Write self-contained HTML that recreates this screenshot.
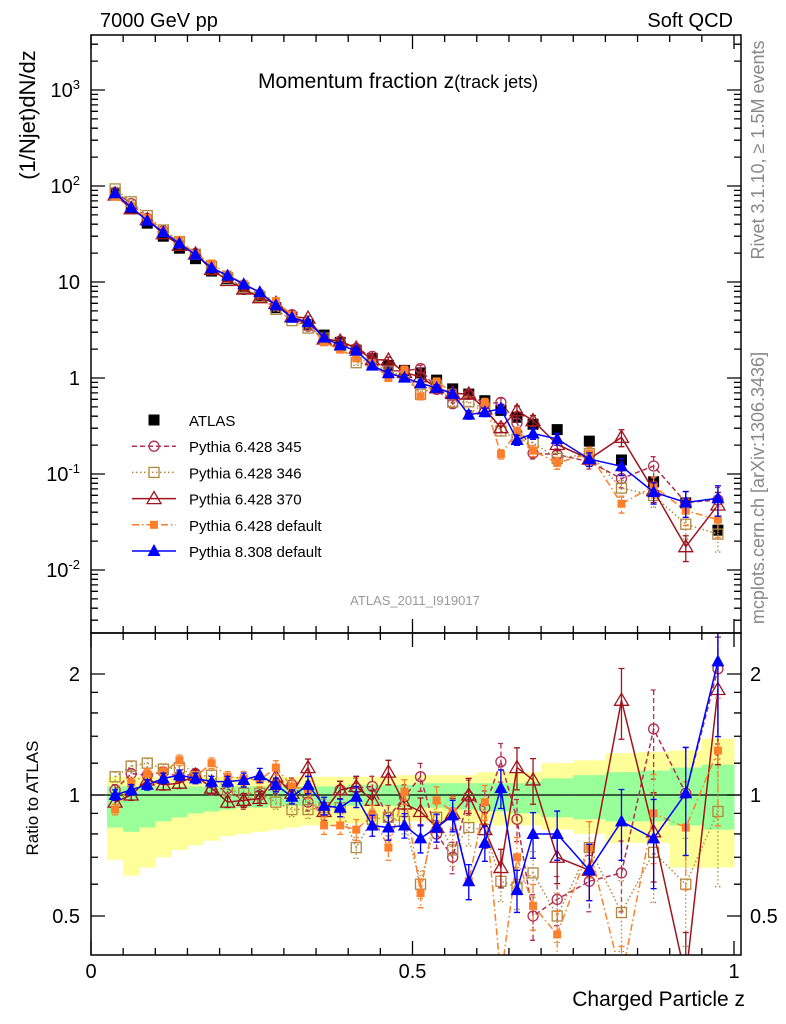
<!DOCTYPE html>
<html><head><meta charset="utf-8">
<style>
html,body{margin:0;padding:0;background:#fff;}
svg{display:block;font-family:"Liberation Sans",sans-serif;}
</style></head>
<body>
<svg id="chart" width="786" height="1024" viewBox="0 0 786 1024" xmlns="http://www.w3.org/2000/svg">
<defs>
<clipPath id="clipTop"><rect x="91" y="35" width="650" height="598"/></clipPath>
<clipPath id="clipBot"><rect x="91" y="633" width="650" height="322"/></clipPath>
</defs>
<g id="bands" clip-path="url(#clipBot)"></g>
<g id="marks"></g>
<g id="axes"></g>
<text x="100" y="27" font-size="20">7000 GeV pp</text>
<text x="733" y="27" font-size="20" text-anchor="end">Soft QCD</text>
<text x="258" y="88" font-size="21">Momentum fraction z<tspan font-size="18">(track jets)</tspan></text>
<text x="415" y="605" font-size="13" fill="#999" text-anchor="middle">ATLAS_2011_I919017</text>
<text transform="translate(764,150) rotate(-90)" font-size="18" fill="#888" text-anchor="middle">Rivet 3.1.10, ≥ 1.5M events</text>
<text transform="translate(764,488) rotate(-90)" font-size="18" fill="#888" text-anchor="middle">mcplots.cern.ch [arXiv:1306.3436]</text>
<text transform="translate(35,115) rotate(-90)" font-size="22" text-anchor="middle">(1/Njet)dN/dz</text>
<text transform="translate(38,798) rotate(-90)" font-size="17" text-anchor="middle">Ratio to ATLAS</text>
<text x="745" y="1006" font-size="21" text-anchor="end">Charged Particle z</text>
<g id="legend"></g>
</svg>
<script>
const zCenters = [0.0375,0.0625,0.0875,0.1125,0.1375,0.1625,0.1875,0.2125,0.2375,0.2625,0.2875,0.3125,0.3375,0.3625,0.3875,0.4125,0.4375,0.4625,0.4875,0.5125,0.5375,0.5625,0.5875,0.6125,0.6375,0.6625,0.6875,0.725,0.775,0.825,0.875,0.925,0.975];
const zLow = [0.025,0.05,0.075,0.1,0.125,0.15,0.175,0.2,0.225,0.25,0.275,0.3,0.325,0.35,0.375,0.4,0.425,0.45,0.475,0.5,0.525,0.55,0.575,0.6,0.625,0.65,0.675,0.7,0.75,0.8,0.85,0.9,0.95];
const zHigh = [0.05,0.075,0.1,0.125,0.15,0.175,0.2,0.225,0.25,0.275,0.3,0.325,0.35,0.375,0.4,0.425,0.45,0.475,0.5,0.525,0.55,0.575,0.6,0.625,0.65,0.675,0.7,0.75,0.8,0.85,0.9,0.95,1.0];
const atlasValues = [84,58,41,30,22.5,17.5,13,10.8,8.7,7.0,5.4,4.3,3.6,2.8,2.35,1.95,1.6,1.35,1.2,1.13,0.95,0.77,0.68,0.58,0.46,0.39,0.33,0.29,0.22,0.14,0.083,0.05,0.026];
const ratio345 = [1.03,1.13,1.12,1.14,1.11,1.13,1.03,1.04,0.96,1.0,1.05,1.06,0.96,0.91,1.03,1.04,1.05,0.88,0.99,1.11,0.8,0.7,0.99,0.93,1.21,0.87,0.5,0.55,0.61,0.64,1.46,1.01,2.06];
const ratio346 = [1.11,1.18,1.2,1.16,1.17,1.11,1.12,1.03,1.01,1.01,0.96,0.92,0.92,0.93,0.93,0.74,0.87,0.88,0.86,0.6,0.88,0.73,0.83,0.82,0.61,0.59,0.64,0.5,0.74,0.51,0.72,0.6,0.91];
const ratio370 = [0.96,1.0,1.09,1.06,1.07,1.12,1.04,0.96,0.97,0.98,1.11,1.01,1.17,0.91,1.03,1.05,0.97,1.14,0.95,0.91,0.83,0.9,1.0,0.82,0.66,1.17,1.09,0.7,0.65,1.72,0.81,0.35,1.83];
const ratio6def = [0.92,1.07,1.13,1.14,1.22,1.11,1.2,1.11,1.1,1.09,1.17,1.05,1.03,0.84,0.84,0.82,0.89,0.74,1.02,0.57,0.97,0.91,0.61,0.96,0.35,0.7,0.53,0.45,0.74,0.35,0.9,0.83,1.29];
const ratio8def = [1.0,1.03,1.06,1.1,1.12,1.1,1.08,1.08,1.09,1.12,1.06,0.99,1.06,0.94,0.93,0.99,0.84,0.83,0.84,0.78,0.83,0.89,0.61,0.76,1.04,0.58,0.8,0.8,0.65,0.86,0.78,1.01,2.15];
const relErr = [0.03,0.03,0.03,0.03,0.03,0.03,0.03,0.03,0.04,0.04,0.04,0.04,0.05,0.05,0.05,0.06,0.06,0.07,0.07,0.08,0.08,0.09,0.1,0.1,0.11,0.12,0.13,0.14,0.16,0.2,0.25,0.3,0.35];
const bandYellowHi = [1.11,1.11,1.11,1.11,1.11,1.11,1.11,1.11,1.11,1.11,1.11,1.11,1.11,1.11,1.11,1.11,1.11,1.11,1.12,1.12,1.12,1.12,1.12,1.14,1.14,1.14,1.14,1.2,1.22,1.27,1.28,1.29,1.38];
const bandYellowLo = [0.69,0.63,0.66,0.7,0.73,0.75,0.77,0.79,0.8,0.81,0.82,0.83,0.84,0.84,0.85,0.85,0.85,0.86,0.86,0.86,0.86,0.86,0.85,0.85,0.84,0.84,0.84,0.82,0.8,0.76,0.76,0.66,0.66];
const bandGreenHi = [1.05,1.05,1.05,1.05,1.05,1.05,1.05,1.05,1.05,1.05,1.05,1.05,1.05,1.05,1.05,1.06,1.06,1.06,1.06,1.07,1.07,1.07,1.07,1.07,1.07,1.07,1.08,1.1,1.12,1.14,1.15,1.17,1.19];
const bandGreenLo = [0.83,0.81,0.83,0.86,0.88,0.9,0.91,0.92,0.93,0.93,0.94,0.94,0.94,0.94,0.94,0.94,0.94,0.94,0.93,0.93,0.93,0.92,0.92,0.91,0.91,0.9,0.9,0.88,0.87,0.86,0.86,0.84,0.82];
const topTickLabels = ["10<tspan dy='-8' font-size='13'>-2</tspan>","10<tspan dy='-8' font-size='13'>-1</tspan>","1","10","10<tspan dy='-8' font-size='13'>2</tspan>","10<tspan dy='-8' font-size='13'>3</tspan>"];
const topTickValues = [0.01,0.1,1,10,100,1000];
const ratioTickValues = [0.5,1,2];
const ratioTickLabels = ["0.5","1","2"];
const xTickValues = [0,0.5,1];
const xTickLabels = ["0","0.5","1"];

const NS="http://www.w3.org/2000/svg";
const X0=91,X1=734;
function xs(z){return X0+z*(X1-X0);}
function yTop(v){return 378-96*Math.log10(v);}
function yBot(r){return 795-402*Math.log10(r);}
function mk(tag,attrs,parent){const e=document.createElementNS(NS,tag);for(const k in attrs)e.setAttribute(k,attrs[k]);parent.appendChild(e);return e;}
const bands=document.getElementById('bands'),marks=document.getElementById('marks'),axes=document.getElementById('axes'),legend=document.getElementById('legend');

for(let i=0;i<zCenters.length;i++){
  const r1=mk('rect',{x:xs(zLow[i]),width:xs(zHigh[i])-xs(zLow[i])+0.5,y:yBot(bandYellowHi[i]),height:yBot(bandYellowLo[i])-yBot(bandYellowHi[i]),fill:'#ffff99'},bands);
  
  
  const r2=mk('rect',{x:xs(zLow[i]),width:xs(zHigh[i])-xs(zLow[i])+0.5,y:yBot(bandGreenHi[i]),height:yBot(bandGreenLo[i])-yBot(bandGreenHi[i]),fill:'#99ff99'},bands);
  
  
}
const unity=mk('line',{x1:91,x2:741,y1:yBot(1),y2:yBot(1),stroke:'#000','stroke-width':1.2},bands);



const series=[
 {name:'pythia-6428-345',label:'Pythia 6.428 345',ratio:ratio345,color:'#b03050',dash:'5,3',marker:'circle'},
 {name:'pythia-6428-346',label:'Pythia 6.428 346',ratio:ratio346,color:'#b08840',dash:'1.5,2.5',marker:'osquare'},
 {name:'pythia-6428-370',label:'Pythia 6.428 370',ratio:ratio370,color:'#a0141e',dash:'',marker:'otri'},
 {name:'pythia-6428-default',label:'Pythia 6.428 default',ratio:ratio6def,color:'#ff7f2a',dash:'7,3,1.5,3',marker:'fsquare'},
 {name:'pythia-8308-default',label:'Pythia 8.308 default',ratio:ratio8def,color:'#0000ff',dash:'',marker:'ftri'}
];
function marker(type,x,y,color,g){
  let e;
  if(type==='circle')e=mk('circle',{cx:x,cy:y,r:5,fill:'none',stroke:color,'stroke-width':1.3},g);
  else if(type==='osquare')e=mk('rect',{x:x-5,y:y-5,width:10,height:10,fill:'none',stroke:color,'stroke-width':1.3},g);
  else if(type==='fsquare')e=mk('rect',{x:x-4,y:y-4,width:8,height:8,fill:color},g);
  else if(type==='bsquare')e=mk('rect',{x:x-5.5,y:y-5.5,width:11,height:11,fill:'#000'},g);
  else if(type==='otri')e=mk('polygon',{points:`${x},${y-7} ${x-7},${y+5} ${x+7},${y+5}`,fill:'none',stroke:color,'stroke-width':1.3},g);
  else e=mk('polygon',{points:`${x},${y-7} ${x-6.5},${y+5} ${x+6.5},${y+5}`,fill:color},g);
  return e;
}
const gA=mk('g',{'clip-path':'url(#clipTop)'},marks);


for(let i=0;i<zCenters.length;i++){const m=marker('bsquare',xs(zCenters[i]),yTop(atlasValues[i]),'#000',gA);}
series.forEach(s=>{
  const gt=mk('g',{'clip-path':'url(#clipTop)'},marks);
  
  
  const gb=mk('g',{'clip-path':'url(#clipBot)'},marks);
  
  
  let pt=[],pb=[];
  for(let i=0;i<zCenters.length;i++){
    const x=xs(zCenters[i]),v=s.ratio[i]*atlasValues[i];
    pt.push(x+','+yTop(v));pb.push(x+','+yBot(s.ratio[i]));
  }
  const lt=mk('polyline',{points:pt.join(' '),fill:'none',stroke:s.color,'stroke-width':1.5,'stroke-dasharray':s.dash},gt);
  
  
  const lb=mk('polyline',{points:pb.join(' '),fill:'none',stroke:s.color,'stroke-width':1.5,'stroke-dasharray':s.dash},gb);
  
  
  for(let i=0;i<zCenters.length;i++){
    const x=xs(zCenters[i]),r=s.ratio[i],v=r*atlasValues[i],e=relErr[i];
    [[gt,yTop(v*(1+e)),yTop(v*(1-e)),yTop(v)],[gb,yBot(r*(1+e)),yBot(r*(1-e)),yBot(r)]].forEach(([g,a,b,c])=>{
      const eb=mk('path',{d:`M${x},${a}V${b}M${x-3},${a}H${x+3}M${x-3},${b}H${x+3}`,stroke:s.color,'stroke-width':1.3,fill:'none','stroke-dasharray':s.dash},g);
      
      
      const m=marker(s.marker,x,c,s.color,g);
      
      
    });
  }
});
[[35,633],[633,955]].forEach(([t,b])=>{const f=mk('rect',{x:91,y:t,width:650,height:b-t,fill:'none',stroke:'#000','stroke-width':1.5},axes);});
let tk='';
for(let d=-3;d<=3;d++)for(let m=1;m<10;m++){const v=m*Math.pow(10,d),y=yTop(v);if(y<36||y>632)continue;const L=m===1?14:7;tk+=`M91,${y}h${L}M741,${y}h${-L}`;}
[0.4,0.5,0.6,0.7,0.8,0.9,1,1.2,1.4,1.6,1.8,2].forEach(r=>{const y=yBot(r);if(y<634||y>954)return;const L=(r===0.5||r===1||r===2)?14:7;tk+=`M91,${y}h${L}M741,${y}h${-L}`;});
for(let k=0;k<=20;k++){const z=k*0.05,x=xs(z),L=(k%10===0)?14:7;tk+=`M${x},955v${-L}M${x},633v${-L}M${x},633v${L}M${x},35v${L}`;}
const tkp=mk('path',{d:tk,stroke:'#000','stroke-width':1.3,fill:'none'},axes);


topTickValues.forEach((v,i)=>{const t=mk('text',{x:80,y:yTop(v)+7,'font-size':20,'text-anchor':'end'},axes);t.innerHTML=topTickLabels[i];});
ratioTickValues.forEach((v,i)=>{
  const t=mk('text',{x:80,y:yBot(v)+7,'font-size':20,'text-anchor':'end'},axes);t.textContent=ratioTickLabels[i];
  const t2=mk('text',{x:750,y:yBot(v)+7,'font-size':20},axes);t2.textContent=ratioTickLabels[i];
});
xTickValues.forEach((v,i)=>{const t=mk('text',{x:xs(v),y:978,'font-size':20,'text-anchor':'middle'},axes);t.textContent=xTickLabels[i];});
const legendRows=[{label:'ATLAS',marker:'bsquare',color:'#000',dash:null}].concat(series);
legendRows.forEach((s,i)=>{
  const y=420+i*26.2;
  const g=mk('g',{},legend);
  
  
  if(s.dash!==null){mk('line',{x1:132,x2:176,y1:y,y2:y,stroke:s.color,'stroke-width':1.5,'stroke-dasharray':s.dash},g);}
  marker(s.marker,154,y,s.color,g);
  const t=mk('text',{x:189,y:y+6,'font-size':15},g);t.textContent=s.label;
});
</script>
</body></html>
